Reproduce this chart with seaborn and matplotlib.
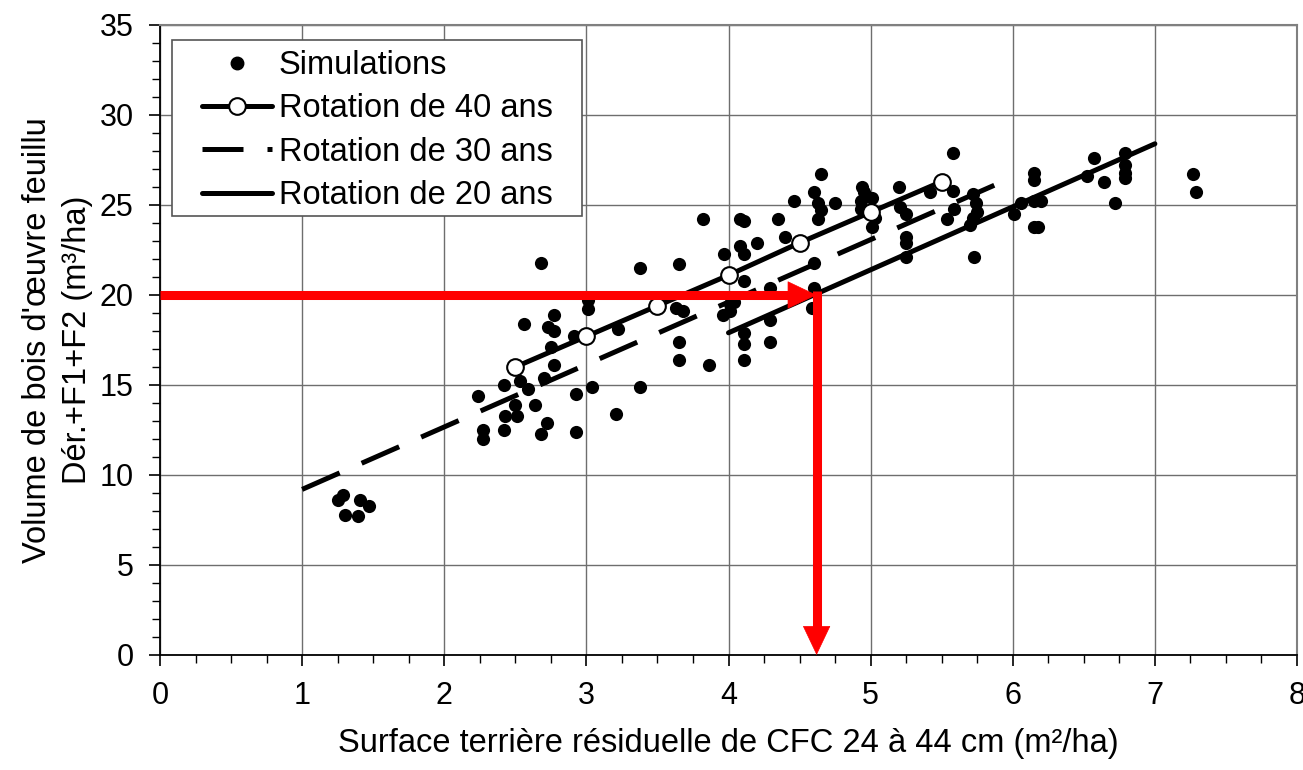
import numpy as np
import pandas as pd
import matplotlib
matplotlib.use("Agg")
import matplotlib.pyplot as plt
import seaborn as sns
from matplotlib.lines import Line2D
from matplotlib.patches import Rectangle
from matplotlib.ticker import MultipleLocator

# ---------------- data ----------------
sim_x = [1.29, 1.25, 1.41, 1.47, 1.30, 1.39,
         2.24, 2.27, 2.27, 2.42, 2.42, 2.43, 2.50, 2.51, 2.53, 2.56, 2.59, 2.64,
         2.68, 2.68, 2.70, 2.72, 2.73, 2.75, 2.77, 2.77, 2.77, 2.91, 2.93, 2.93,
         3.01, 3.01, 3.04, 3.21, 3.22, 3.38, 3.38, 3.63, 3.65, 3.65, 3.65, 3.68,
         3.82, 3.86, 3.96, 3.97, 4.01, 4.01, 4.04, 4.08, 4.08, 4.11, 4.11, 4.11,
         4.11, 4.11, 4.11, 4.20, 4.29, 4.29, 4.29, 4.35, 4.40, 4.46, 4.60, 4.60,
         4.60, 4.59, 4.63, 4.65, 4.63, 4.65, 4.75, 4.93, 4.93, 4.94, 4.95, 5.01,
         5.01, 5.03, 5.20, 5.21, 5.25, 5.25, 5.25, 5.25, 5.42, 5.54, 5.58, 5.58,
         5.59, 5.70, 5.72, 5.72, 5.73, 5.74, 5.75, 6.01, 6.06, 6.15, 6.15, 6.15,
         6.15, 6.18, 6.20, 6.52, 6.57, 6.64, 6.72, 6.79, 6.79, 6.79, 6.79, 7.27,
         7.29]
sim_y = [8.9, 8.6, 8.6, 8.3, 7.8, 7.7,
         14.4, 12.5, 12.0, 15.0, 12.5, 13.3, 13.9, 13.3, 15.2, 18.4, 14.8, 13.9,
         21.8, 12.3, 15.4, 12.9, 18.2, 17.1, 18.9, 18.0, 16.1, 17.7, 14.5, 12.4,
         19.7, 19.2, 14.9, 13.4, 18.1, 21.5, 14.9, 19.3, 21.7, 17.4, 16.4, 19.1,
         24.2, 16.1, 18.9, 22.3, 19.5, 19.1, 19.6, 24.2, 22.7, 24.1, 22.3, 20.8,
         17.9, 17.3, 16.4, 22.9, 20.4, 18.6, 17.4, 24.2, 23.2, 25.2, 25.7, 21.8,
         20.4, 19.3, 25.1, 24.7, 24.2, 26.7, 25.1, 25.2, 24.8, 26.0, 25.7, 25.4,
         23.8, 24.3, 26.0, 24.9, 24.5, 23.2, 22.9, 22.1, 25.7, 24.2, 27.9, 25.8,
         24.8, 23.9, 25.6, 24.3, 22.1, 25.1, 24.6, 24.5, 25.1, 26.8, 26.4, 25.2,
         23.8, 23.8, 25.2, 26.6, 27.6, 26.3, 25.1, 27.9, 27.2, 26.8, 26.5, 26.7,
         25.7]

rot40_x = [2.5, 3.0, 3.5, 4.0, 4.5, 5.0, 5.5]
rot40_y = [16.0, 17.7, 19.4, 21.1, 22.9, 24.6, 26.3]
rot30_x = [1.0, 5.9]
rot30_y = [9.2, 26.2]
rot20_x = [4.0, 7.0]
rot20_y = [17.9, 28.4]

target_volume = 20.0
target_area = 4.62

labels = ["Simulations", "Rotation de 40 ans", "Rotation de 30 ans", "Rotation de 20 ans"]
x_label = "Surface terrière résiduelle de CFC 24 à 44 cm (m²/ha)"
y_label = "Volume de bois d'œuvre feuillu\nDér.+F1+F2 (m³/ha)"

# ---------------- style ----------------
sns.set_theme(style="ticks")
plt.rcParams["font.family"] = ["Liberation Sans", "DejaVu Sans"]
plt.rcParams["text.color"] = "black"
plt.rcParams["axes.labelcolor"] = "black"

W, H = 1303, 770
fig = plt.figure(figsize=(W / 100, H / 100), dpi=100)
ax_l, ax_r, ax_t, ax_b = 160, 1297, 25, 655
ax = fig.add_axes([ax_l / W, (H - ax_b) / H, (ax_r - ax_l) / W, (ax_b - ax_t) / H])
aw, ah = ax_r - ax_l, ax_b - ax_t

sim_df = pd.DataFrame({"x": sim_x, "y": sim_y})
sns.scatterplot(data=sim_df, x="x", y="y", ax=ax, color="black", s=90,
                edgecolor="black", linewidth=0, zorder=3)

sns.lineplot(x=rot30_x, y=rot30_y, ax=ax, color="black", lw=3.6,
             linestyle=(0, (8.2, 4.8)), solid_capstyle="butt",
             dash_capstyle="butt", zorder=4)
sns.lineplot(x=rot20_x, y=rot20_y, ax=ax, color="black", lw=3.6, zorder=4)
sns.lineplot(x=rot40_x, y=rot40_y, ax=ax, color="black", lw=3.6,
             marker="o", markersize=12, markerfacecolor="white",
             markeredgecolor="black", markeredgewidth=1.5, zorder=5)

# red arrows (reading of the target)
ax.plot([0, target_area - 0.19], [target_volume, target_volume], color="red",
        lw=6.5, solid_capstyle="butt", zorder=6, clip_on=False)
ax.annotate("", xy=(target_area, target_volume),
            xytext=(target_area - 0.3, target_volume),
            arrowprops=dict(arrowstyle="-|>,head_length=2.0,head_width=0.95",
                            color="red", lw=0.5, shrinkA=0, shrinkB=0,
                            mutation_scale=10),
            zorder=7, annotation_clip=False)
ax.plot([target_area, target_area], [target_volume + 0.25, 1.5], color="red",
        lw=6.5, solid_capstyle="butt", zorder=6, clip_on=False)
ax.annotate("", xy=(target_area, 0),
            xytext=(target_area, 2.5),
            arrowprops=dict(arrowstyle="-|>,head_length=2.0,head_width=0.95",
                            color="red", lw=0.5, shrinkA=0, shrinkB=0,
                            mutation_scale=10),
            zorder=7, annotation_clip=False)

# ---------------- axes ----------------
ax.set_xlim(0, 8)
ax.set_ylim(0, 35)
ax.xaxis.set_major_locator(MultipleLocator(1))
ax.xaxis.set_minor_locator(MultipleLocator(0.25))
ax.yaxis.set_major_locator(MultipleLocator(5))
ax.yaxis.set_minor_locator(MultipleLocator(1))
ax.grid(True, which="major", color="#6e6e6e", lw=1.0)
ax.set_axisbelow(True)
ax.tick_params(which="major", direction="out", length=8, width=1.2,
               labelsize=22, colors="black", pad=11)
ax.tick_params(which="minor", direction="out", length=6, width=1.0,
               colors="black")
for side in ["left", "bottom"]:
    ax.spines[side].set_color("black")
    ax.spines[side].set_linewidth(1.3)
for side in ["top", "right"]:
    ax.spines[side].set_visible(True)
    ax.spines[side].set_color("#808080")
    ax.spines[side].set_linewidth(1.5)

ax.set_xlabel(x_label, fontsize=23.5, labelpad=12)
ax.set_ylabel(y_label, fontsize=23.5, labelpad=5, linespacing=1.35)

# legend: frame drawn as a box, entries placed inside it
frame_l, frame_r, frame_t, frame_b = 172, 582, 40, 216
ax.add_patch(Rectangle(((frame_l - ax_l) / aw, 1 - (frame_b - ax_t) / ah),
                       (frame_r - frame_l) / aw, (frame_b - frame_t) / ah,
                       transform=ax.transAxes, facecolor="white",
                       edgecolor="#555555", lw=1.2, zorder=9))

handles = [
    Line2D([], [], ls="none", marker="o", color="black", markersize=9),
    Line2D([], [], color="black", lw=3.6, marker="o", markersize=12,
           markerfacecolor="white", markeredgecolor="black", markeredgewidth=1.5),
    Line2D([], [], color="black", lw=3.6, linestyle=(0, (8.2, 4.8))),
    Line2D([], [], color="black", lw=3.6),
]
leg = ax.legend(handles, labels, loc="upper left",
                bbox_to_anchor=((202 - ax_l) / aw, 1 - (50 - ax_t) / ah),
                borderaxespad=0, borderpad=0,
                fontsize=23.5, frameon=False, handlelength=2.15,
                handletextpad=0.2, labelspacing=0.38)
leg.set_zorder(10)

fig.savefig("out.png", dpi=100)
